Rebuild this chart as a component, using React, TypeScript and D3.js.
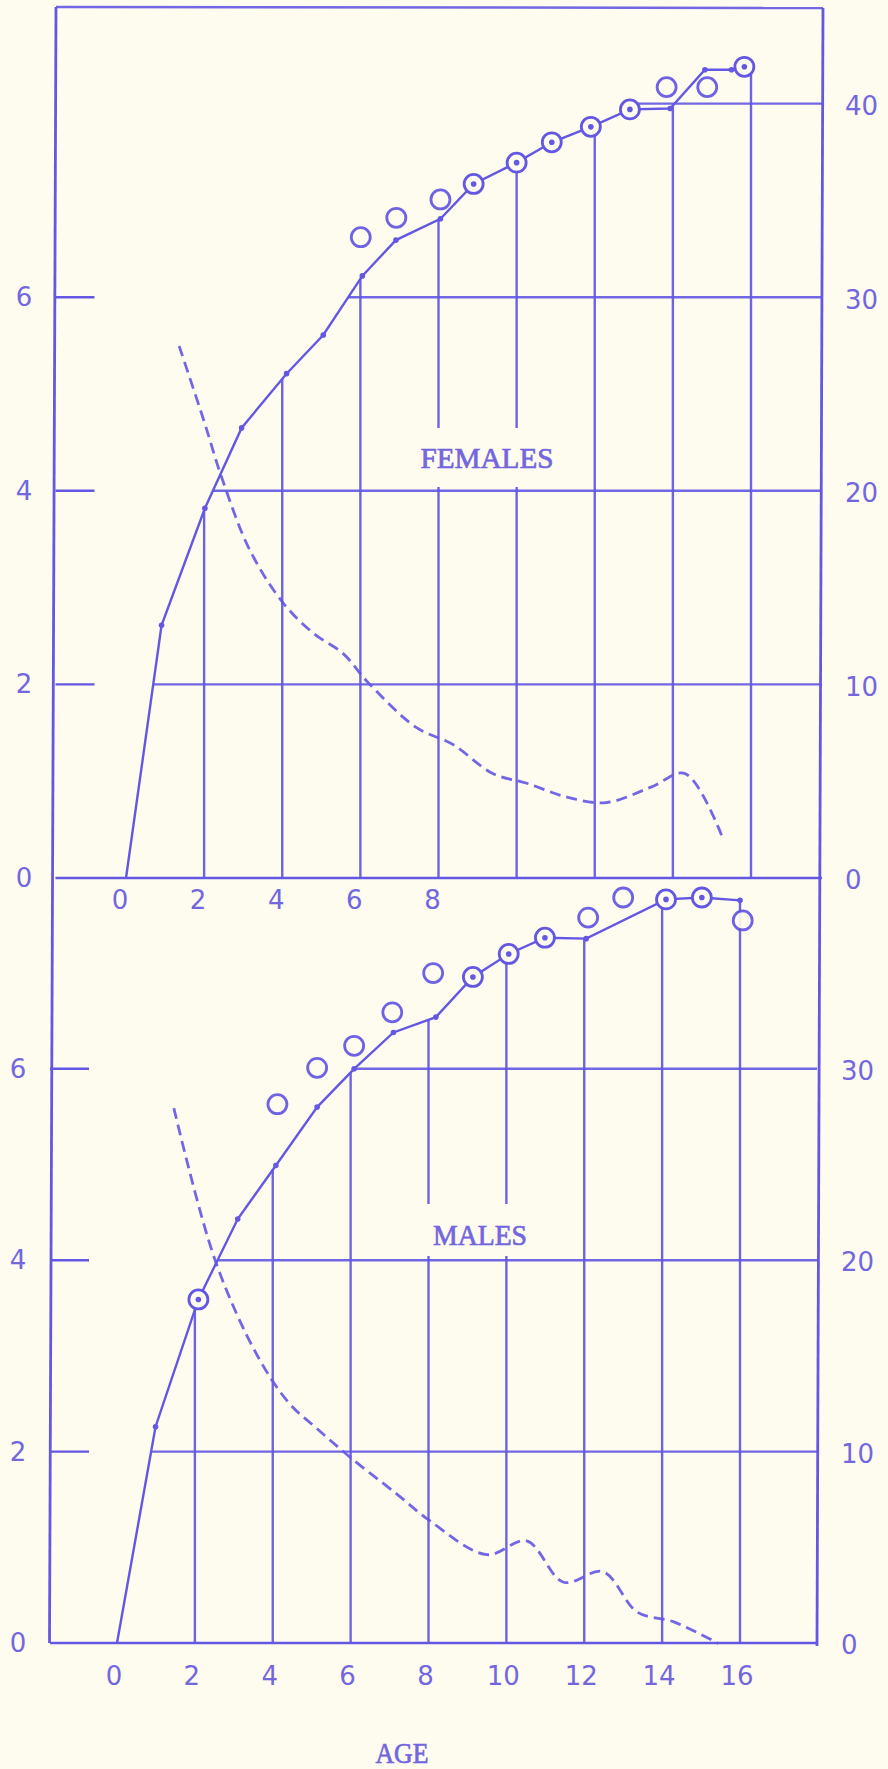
import React, { useEffect, useRef } from "react";
import * as d3 from "d3";

// ages with a vertical rule, and the age labels of each panel
const gridAges = [2, 4, 6, 8, 10, 12, 14, 16];
const femaleAgeLabels = [0, 2, 4, 6, 8];
const maleAgeLabels = [0, 2, 4, 6, 8, 10, 12, 14, 16];
const femaleLeftTicks = [0, 2, 4, 6];
const maleLeftTicks = [0, 2, 4, 6];
const femaleRightTicks = [0, 10, 20, 30, 40];
const maleRightTicks = [0, 10, 20, 30];

// FEMALES: solid curve (left scale), circles, dashed curve (right scale)
const femaleSolid: [number, number][] = [
  [0, 0], [0.91, 2.61], [2.02, 3.82], [2.96, 4.65], [4.11, 5.21], [5.05, 5.61],
  [6.05, 6.22], [6.91, 6.59], [8.05, 6.81], [8.9, 7.17], [10, 7.39], [10.9, 7.6],
  [11.9, 7.76], [12.9, 7.94], [13.93, 7.95], [14.82, 8.35], [15.5, 8.35], [15.83, 8.38],
];
const femaleDotted: [number, number][] = [
  [8.9, 7.17], [10, 7.39], [10.9, 7.6], [11.9, 7.76], [12.9, 7.94], [15.83, 8.38],
];
const femaleOpen: [number, number][] = [
  [6.01, 6.62], [6.92, 6.82], [8.05, 7.01], [13.84, 8.17], [14.88, 8.17],
];
const femaleDashed: [number, number][] = [
  [1.36, 27.6], [2.0, 23.7], [2.45, 20.8], [3.17, 17.05], [4.03, 14.3], [4.8, 12.75],
  [5.56, 11.7], [6.2, 10.2], [7.42, 7.9], [8.37, 7.0], [9.39, 5.5], [10.26, 5.0],
  [11.26, 4.3], [12.29, 4.0], [13.44, 4.8], [14.31, 5.5], [15.25, 2.3],
];

// MALES
const maleSolid: [number, number][] = [
  [0, 0], [0.99, 2.26], [2.09, 3.59], [3.1, 4.43], [4.08, 4.99], [5.14, 5.6],
  [6.09, 6.0], [7.1, 6.38], [8.19, 6.54], [9.14, 6.96], [10.06, 7.2], [10.99, 7.37],
  [12.05, 7.36], [14.1, 7.77], [15.02, 7.79], [16.0, 7.76],
];
const maleDotted: [number, number][] = [
  [2.09, 3.59], [9.14, 6.96], [10.06, 7.2], [10.99, 7.37], [14.1, 7.77], [15.02, 7.79],
];
const maleOpen: [number, number][] = [
  [4.12, 5.63], [5.14, 6.01], [6.09, 6.24], [7.07, 6.59], [8.12, 7.0],
  [12.1, 7.58], [13.0, 7.79], [16.07, 7.55],
];
const maleDashed: [number, number][] = [
  [1.46, 28.05], [2.52, 20.1], [3.61, 15.1], [4.41, 12.66], [5.14, 11.3], [6.01, 9.77],
  [7.18, 7.9], [8.04, 6.48], [9.5, 4.72], [10.52, 5.44], [11.47, 3.28], [12.48, 3.83],
  [13.36, 1.72], [14.3, 1.21], [15.44, 0.08],
];

const ink = "#6457e3";
const textInk = "#7366de";
const paper = "#fdfcee";

const App = () => {
  const ref = useRef<SVGSVGElement>(null);

  useEffect(() => {
    const svg = d3.select(ref.current);
    svg.selectAll("*").remove();
    const width = 888;
    const height = 1769;

    svg.attr("width", width).attr("height", height)
      .style("position", "absolute").style("left", 0).style("top", 0)
      .style("background", paper);

    // value of a polyline at a given age, and the first age that reaches a value
    const valueAt = (pts: [number, number][], a: number) => {
      if (a <= pts[0][0]) return pts[0][1];
      for (let i = 1; i < pts.length; i++) {
        if (a <= pts[i][0]) {
          const t = (a - pts[i - 1][0]) / (pts[i][0] - pts[i - 1][0]);
          return pts[i - 1][1] + t * (pts[i][1] - pts[i - 1][1]);
        }
      }
      return pts[pts.length - 1][1];
    };
    const ageAt = (pts: [number, number][], v: number) => {
      for (let i = 1; i < pts.length; i++) {
        if (pts[i][1] >= v) {
          const t = (v - pts[i - 1][1]) / (pts[i][1] - pts[i - 1][1]);
          return pts[i - 1][0] + t * (pts[i][0] - pts[i - 1][0]);
        }
      }
      return pts[pts.length - 1][0];
    };

    const panels = [
      {
        solid: femaleSolid, dotted: femaleDotted, open: femaleOpen, dashed: femaleDashed,
        x: d3.scaleLinear().domain([0, 16]).range([126, 751]),
        y: d3.scaleLinear().domain([0, 8]).range([878, 103.6]),
        yr: d3.scaleLinear().domain([0, 40]).range([880, 106]),
        left: 55.5, right: 822,
        hLines: [2, 4, 6, 7.92], leftTicks: femaleLeftTicks, rightTicks: femaleRightTicks,
        ageLabels: femaleAgeLabels, ageLabelY: 900, labelShift: -6,
        leftLabelX: 24, rightLabelX: 845,
        gap: [428, 487], title: "FEMALES", titleX: 487, titleY: 468, titleLen: 133,
      },
      {
        solid: maleSolid, dotted: maleDotted, open: maleOpen, dashed: maleDashed,
        x: d3.scaleLinear().domain([0, 16]).range([117, 740]),
        y: d3.scaleLinear().domain([0, 8]).range([1643, 877.4]),
        yr: d3.scaleLinear().domain([0, 40]).range([1645, 879.4]),
        left: 50, right: 817,
        hLines: [2, 4, 6], leftTicks: maleLeftTicks, rightTicks: maleRightTicks,
        ageLabels: maleAgeLabels, ageLabelY: 1676, labelShift: -3,
        leftLabelX: 18, rightLabelX: 841,
        gap: [1204, 1256], title: "MALES", titleX: 480, titleY: 1245, titleLen: 94,
      },
    ];

    // faint orange ruling across the sheet
    const grad = svg.append("defs").append("linearGradient").attr("id", "rule");
    grad.append("stop").attr("offset", "0%").attr("stop-color", "#f7c27a");
    grad.append("stop").attr("offset", "35%").attr("stop-color", "#f4a3b4");
    grad.append("stop").attr("offset", "60%").attr("stop-color", "#f6c48a");
    grad.append("stop").attr("offset", "100%").attr("stop-color", "#f29fb0");
    svg.append("line")
      .attr("x1", 0).attr("x2", width).attr("y1", 1068).attr("y2", 1068)
      .attr("stroke", "url(#rule)").attr("stroke-width", 1.6);

    // outer frame (the sheet is slightly skewed)
    svg.append("line").attr("x1", 56).attr("y1", 7).attr("x2", 49.5).attr("y2", 1643)
      .attr("stroke", ink).attr("stroke-width", 2.8);
    svg.append("line").attr("x1", 823).attr("y1", 8).attr("x2", 817).attr("y2", 1646)
      .attr("stroke", ink).attr("stroke-width", 2.8);
    svg.append("line").attr("x1", 56).attr("y1", 7).attr("x2", 823).attr("y2", 8)
      .attr("stroke", ink).attr("stroke-width", 2.5).attr("opacity", 0.9);

    panels.forEach((p) => {
      const g = svg.append("g");
      const base = p.y(0);

      // baseline
      g.append("line").attr("x1", p.left).attr("x2", p.right)
        .attr("y1", base).attr("y2", base)
        .attr("stroke", ink).attr("stroke-width", 2.6);

      // short ticks on the left frame
      p.leftTicks.filter((v) => v > 0).forEach((v) => {
        g.append("line").attr("x1", p.left).attr("x2", p.left + 39)
          .attr("y1", p.y(v)).attr("y2", p.y(v))
          .attr("stroke", ink).attr("stroke-width", 2.4);
      });

      // horizontal rules under the curve
      p.hLines.forEach((v) => {
        const xs = p.x(ageAt(p.solid, v));
        const yv = p.y(Math.round(v));
        g.append("line").attr("x1", xs).attr("x2", p.right)
          .attr("y1", yv).attr("y2", yv)
          .attr("stroke", ink).attr("stroke-width", 2.4).attr("opacity", 0.9);
      });

      // vertical rules up to the curve
      gridAges.forEach((a) => {
        const xa = p.x(a);
        const topY = p.y(valueAt(p.solid, a));
        const segs: [number, number][] = (a === 8 || a === 10)
          ? [[base, p.gap[1]], [p.gap[0], topY]]
          : [[base, topY]];
        segs.forEach(([y1, y2]) => {
          g.append("line").attr("x1", xa).attr("x2", xa).attr("y1", y1).attr("y2", y2)
            .attr("stroke", ink).attr("stroke-width", 2.4).attr("opacity", 0.92);
        });
      });

      // dashed curve (right scale)
      const dashedLine = d3.line<[number, number]>()
        .x((d) => p.x(d[0])).y((d) => p.yr(d[1]))
        .curve(d3.curveCatmullRom.alpha(0.5));
      g.append("path").datum(p.dashed).attr("d", dashedLine)
        .attr("fill", "none").attr("stroke", ink).attr("stroke-width", 2.8)
        .attr("stroke-dasharray", "11 6").attr("opacity", 0.9);

      // solid curve (left scale)
      const solidLine = d3.line<[number, number]>()
        .x((d) => p.x(d[0])).y((d) => p.y(d[1]));
      g.append("path").datum(p.solid).attr("d", solidLine)
        .attr("fill", "none").attr("stroke", ink).attr("stroke-width", 2.4);

      // small points on the solid curve
      g.selectAll(".pt").data(p.solid.slice(1)).enter().append("circle")
        .attr("cx", (d) => p.x(d[0])).attr("cy", (d) => p.y(d[1]))
        .attr("r", 2.8).attr("fill", ink);

      // open circles
      g.selectAll(".open").data(p.open).enter().append("circle")
        .attr("cx", (d) => p.x(d[0])).attr("cy", (d) => p.y(d[1]))
        .attr("r", 9.5).attr("fill", paper).attr("stroke", ink).attr("stroke-width", 2.8)
        .attr("opacity", 0.92);

      // circles with a centre dot
      const dots = g.selectAll(".dotted").data(p.dotted).enter().append("g")
        .attr("transform", (d) => "translate(" + p.x(d[0]) + "," + p.y(d[1]) + ")");
      dots.append("circle").attr("r", 9.5).attr("fill", paper)
        .attr("stroke", ink).attr("stroke-width", 2.8);
      dots.append("circle").attr("r", 2.8).attr("fill", ink);

      // tick labels
      p.leftTicks.forEach((v) => {
        g.append("text").text(String(v))
          .attr("x", p.leftLabelX).attr("y", p.y(v))
          .attr("text-anchor", "middle").attr("dominant-baseline", "central")
          .style("font-family", "DejaVu Sans").style("font-size", "26px")
          .attr("fill", textInk);
      });
      p.rightTicks.forEach((v) => {
        g.append("text").text(String(v))
          .attr("x", p.rightLabelX).attr("y", p.yr(v))
          .attr("dominant-baseline", "central")
          .style("font-family", "DejaVu Sans").style("font-size", "26px")
          .attr("fill", textInk);
      });
      p.ageLabels.forEach((a) => {
        g.append("text").text(String(a))
          .attr("x", p.x(a) + p.labelShift).attr("y", p.ageLabelY)
          .attr("text-anchor", "middle").attr("dominant-baseline", "central")
          .style("font-family", "DejaVu Sans").style("font-size", "26px")
          .attr("fill", textInk);
      });

      // panel title
      g.append("text").text(p.title)
        .attr("x", p.titleX).attr("y", p.titleY)
        .attr("text-anchor", "middle")
        .attr("textLength", p.titleLen).attr("lengthAdjust", "spacingAndGlyphs")
        .style("font-family", "Liberation Serif").style("font-size", "29px")
        .attr("fill", textInk).attr("stroke", textInk).attr("stroke-width", 0.7);
    });

    svg.append("text").text("AGE")
      .attr("x", 402).attr("y", 1763)
      .attr("text-anchor", "middle")
      .attr("textLength", 53).attr("lengthAdjust", "spacingAndGlyphs")
      .style("font-family", "Liberation Serif").style("font-size", "29px")
      .attr("fill", textInk).attr("stroke", textInk).attr("stroke-width", 0.7);
  }, []);

  return <svg ref={ref}></svg>;
};

export default App;
